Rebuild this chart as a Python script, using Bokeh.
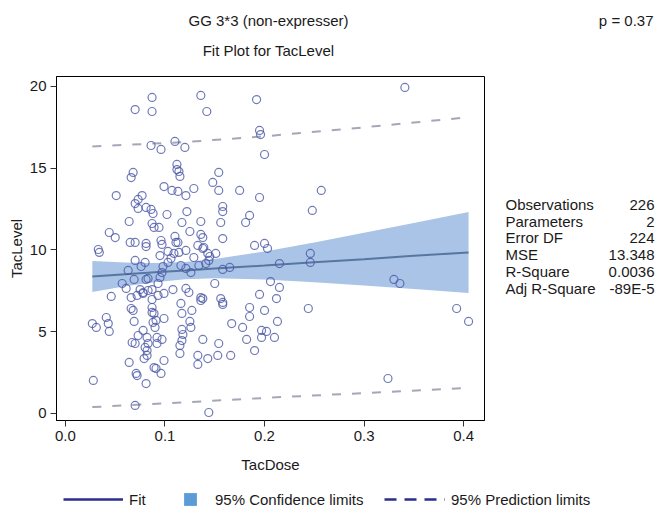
from bokeh.plotting import figure
from bokeh.models import Range1d, FixedTicker, Legend, LegendItem
from bokeh.layouts import column, row
from bokeh.core.properties import value
from bokeh.embed import file_html
from bokeh.resources import INLINE

# ---------------- data ----------------
tac_dose = [0.070, 0.087, 0.087, 0.136, 0.142, 0.192, 0.341, 0.086, 0.096, 0.110,
            0.120, 0.195, 0.196, 0.200, 0.068, 0.066, 0.112, 0.112, 0.114, 0.115,
            0.154, 0.051, 0.099, 0.107, 0.113, 0.121, 0.129, 0.148, 0.154, 0.175,
            0.077, 0.073, 0.070, 0.073, 0.081, 0.086, 0.088, 0.102, 0.122, 0.158,
            0.158, 0.195, 0.257, 0.248, 0.064, 0.087, 0.089, 0.094, 0.117, 0.136,
            0.156, 0.181, 0.185, 0.044, 0.050, 0.125, 0.110, 0.113, 0.096, 0.097,
            0.136, 0.138, 0.158, 0.065, 0.070, 0.081, 0.081, 0.033, 0.034, 0.103,
            0.109, 0.114, 0.121, 0.133, 0.138, 0.143, 0.151, 0.190, 0.200, 0.203,
            0.246, 0.246, 0.145, 0.215, 0.158, 0.165, 0.330, 0.336, 0.206, 0.215,
            0.150, 0.195, 0.212, 0.156, 0.158, 0.158, 0.138, 0.185, 0.185, 0.200,
            0.244, 0.167, 0.178, 0.213, 0.197, 0.202, 0.197, 0.210, 0.182, 0.138,
            0.154, 0.190, 0.143, 0.153, 0.166, 0.393, 0.405, 0.324, 0.144, 0.057,
            0.061, 0.069, 0.081, 0.083, 0.075, 0.078, 0.087, 0.093, 0.095, 0.097,
            0.098, 0.046, 0.066, 0.072, 0.078, 0.083, 0.087, 0.093, 0.099, 0.108,
            0.121, 0.124, 0.136, 0.136, 0.066, 0.068, 0.087, 0.087, 0.089, 0.099,
            0.116, 0.117, 0.127, 0.125, 0.126, 0.041, 0.043, 0.044, 0.027, 0.031,
            0.069, 0.088, 0.090, 0.091, 0.078, 0.073, 0.070, 0.067, 0.082, 0.083,
            0.080, 0.082, 0.092, 0.097, 0.092, 0.117, 0.118, 0.117, 0.115, 0.115,
            0.079, 0.082, 0.099, 0.089, 0.091, 0.096, 0.064, 0.071, 0.072, 0.081,
            0.133, 0.133, 0.028, 0.070, 0.070, 0.080, 0.095, 0.106, 0.116, 0.121,
            0.126, 0.134, 0.141, 0.144, 0.111, 0.139, 0.129, 0.103, 0.076, 0.063]
tac_level = [18.59, 19.33, 18.47, 19.45, 18.47, 19.20, 19.94, 16.39, 16.15, 16.64,
             16.27, 17.31, 17.06, 15.84, 14.74, 14.43, 15.23, 14.92, 14.80, 14.50,
             14.74, 13.33, 13.88, 13.64, 13.58, 13.33, 13.76, 14.13, 13.64, 13.64,
             13.33, 13.09, 12.84, 12.54, 12.60, 12.48, 12.23, 12.17, 12.35, 12.66,
             12.35, 13.21, 13.64, 12.42, 11.74, 11.62, 11.38, 11.38, 11.68, 11.74,
             11.68, 11.68, 12.11, 11.07, 10.76, 11.13, 10.83, 10.46, 10.58, 10.34,
             10.95, 10.76, 10.70, 10.46, 10.46, 10.40, 10.21, 10.03, 9.85, 9.91,
             9.79, 9.85, 9.97, 10.28, 10.09, 9.79, 9.79, 10.28, 10.40, 10.09,
             9.79, 9.24, 9.60, 9.17, 8.81, 8.93, 8.20, 7.95, 8.07, 7.71,
             7.95, 7.28, 7.03, 7.03, 6.79, 6.67, 7.03, 6.48, 5.93, 6.30,
             6.42, 5.50, 5.26, 5.63, 5.08, 5.02, 4.65, 4.65, 4.53, 4.53,
             4.28, 3.85, 3.36, 3.55, 3.55, 6.42, 5.63, 2.14, 0.06, 7.95,
             7.65, 8.20, 8.20, 8.26, 7.58, 7.40, 7.58, 7.95, 8.32, 8.62,
             8.99, 7.16, 7.09, 7.22, 7.34, 7.52, 6.97, 7.22, 7.34, 7.58,
             7.65, 7.40, 7.09, 6.91, 6.42, 6.30, 6.48, 6.18, 6.12, 5.81,
             6.73, 6.12, 6.30, 5.63, 5.26, 5.87, 5.50, 5.02, 5.50, 5.26,
             5.63, 5.57, 5.26, 5.69, 5.08, 4.77, 4.28, 4.34, 4.65, 4.28,
             4.04, 3.85, 4.65, 4.53, 4.28, 5.14, 4.83, 4.46, 4.16, 3.67,
             3.36, 3.55, 3.24, 2.81, 2.75, 2.45, 3.12, 2.45, 2.32, 1.83,
             3.55, 3.00, 2.02, 0.49, 9.36, 9.24, 9.66, 9.48, 9.05, 8.87,
             8.62, 9.05, 9.17, 9.36, 10.46, 10.15, 9.54, 9.24, 8.99, 8.75]

fit_x = [0.027, 0.06, 0.09, 0.12, 0.15, 0.2, 0.25, 0.3, 0.35, 0.405]
fit_y = [8.38, 8.51, 8.63, 8.74, 8.86, 9.05, 9.25, 9.44, 9.64, 9.85]
cl_lower = [7.43, 7.78, 8.03, 8.21, 8.27, 8.19, 8.02, 7.82, 7.61, 7.37]
cl_upper = [9.33, 9.24, 9.21, 9.27, 9.45, 9.91, 10.46, 11.06, 11.65, 12.33]

pl_x = [0.027, 0.12, 0.2, 0.3, 0.405]
pl_lower = [0.39, 0.68, 0.95, 1.25, 1.57]
pl_upper = [16.33, 16.60, 16.95, 17.50, 18.12]

x_ticks = [0.0, 0.1, 0.2, 0.3, 0.4]
x_tick_labels = ["0.0", "0.1", "0.2", "0.3", "0.4"]
y_ticks = [0, 5, 10, 15, 20]
y_tick_labels = ["0", "5", "10", "15", "20"]

title_main = "GG 3*3 (non-expresser)"
title_sub = "Fit Plot for TacLevel"
p_text = "p = 0.37"
stat_names = ["Observations", "Parameters", "Error DF", "MSE", "R-Square", "Adj R-Square"]
stat_values = ["226", "2", "224", "13.348", "0.0036", "-89E-5"]
legend_labels = ["Fit", "95% Confidence limits", "95% Prediction limits"]

# ---------------- styling ----------------
FONT = "Liberation Sans"
FS = "15px"
TXT = "#1a1a1a"

TOP_H, MID_H, BOT_H = 68, 408, 31
MAIN_W, SIDE_W = 488, 172
TOTAL_W = MAIN_W + SIDE_W


def blank(w, h, xr, yr):
    f = figure(width=w, height=h, output_backend="svg", toolbar_location=None,
               x_range=xr, y_range=yr, min_border=0, outline_line_color=None)
    f.axis.visible = False
    f.grid.visible = False
    return f


def put_text(f, xs, ys, texts, align):
    f.text(x=xs, y=ys, text=texts, text_font=value(FONT), text_font_size=FS,
           text_color=TXT, text_align=align, text_baseline="middle")


# ---- top: titles and p value (pixel-like coordinates) ----
top = blank(TOTAL_W, TOP_H, Range1d(0, TOTAL_W), Range1d(0, TOP_H))
put_text(top, [268, 268], [48, 18], [title_main, title_sub], "center")
put_text(top, [653], [48], [p_text], "right")

# ---- main fit plot ----
p = figure(width=MAIN_W, height=MID_H, output_backend="svg", toolbar_location=None,
           x_range=Range1d(-0.009, 0.421), y_range=Range1d(-0.43, 20.61),
           min_border_left=56, min_border_right=4, min_border_top=8, min_border_bottom=56,
           background_fill_color="white", border_fill_color="white")
p.grid.visible = False
p.outline_line_color = "black"
p.outline_line_width = 1

for ax in (p.xaxis[0], p.yaxis[0]):
    ax.axis_line_color = "black"
    ax.major_tick_line_color = "#333333"
    ax.minor_tick_line_color = None
    ax.major_tick_in = 0
    ax.major_tick_out = 6
    ax.major_label_standoff = 4
    ax.major_label_text_font = FONT
    ax.major_label_text_font_size = FS
    ax.major_label_text_color = TXT
    ax.axis_label_text_font = FONT
    ax.axis_label_text_font_size = FS
    ax.axis_label_text_font_style = "normal"
    ax.axis_label_text_color = TXT

p.xaxis.ticker = FixedTicker(ticks=x_ticks)
p.xaxis.major_label_overrides = dict(zip(x_ticks, x_tick_labels))
p.yaxis.ticker = FixedTicker(ticks=y_ticks)
p.yaxis.major_label_overrides = dict(zip(y_ticks, y_tick_labels))
p.xaxis.axis_label = "TacDose"
p.yaxis.axis_label = "TacLevel"
p.xaxis.axis_label_standoff = 12
p.yaxis.axis_label_standoff = 2

p.varea(x=fit_x, y1=cl_lower, y2=cl_upper, fill_color="#a9c4e6", fill_alpha=1.0)
p.line(fit_x, fit_y, line_color="#57779f", line_width=2)
p.line(pl_x, pl_lower, line_color="#a6a6b8", line_width=2, line_dash="9 11")
p.line(pl_x, pl_upper, line_color="#a6a6b8", line_width=2, line_dash="9 11")
p.scatter(tac_dose, tac_level, marker="circle", size=8, fill_color=None,
          line_color="#4b58a6", line_alpha=0.8, line_width=1.2)

# ---- side: fit statistics (frame aligned with the main frame, 344 px tall) ----
side = blank(SIDE_W, MID_H, Range1d(0, SIDE_W), Range1d(0, 344))
row_y = [216, 199, 183, 166, 149, 132]
put_text(side, [17] * len(stat_names), row_y, stat_names, "left")
put_text(side, [166] * len(stat_values), row_y, stat_values, "right")

# ---- bottom: legend ----
# legend-only renderers carry the legend styling; their data lies outside this
# figure's ranges so nothing but the legend swatches is visible
bot = blank(TOTAL_W, BOT_H, Range1d(0, 1), Range1d(-2, -1))
leg_fit = bot.line(fit_x, fit_y, line_color="#2b2e8c", line_width=2.5)
leg_cl = bot.varea(x=fit_x, y1=cl_lower, y2=cl_upper, fill_color="#5b9bd8")
leg_pl = bot.line(fit_x, fit_y, line_color="#2b2e8c", line_width=2.5, line_dash="12 8")


def mk_legend(item, loc, gw, gh, standoff):
    lg = Legend(items=[item], location=loc, orientation="horizontal",
                glyph_width=gw, glyph_height=gh, label_standoff=standoff,
                padding=0, margin=0, spacing=0, border_line_color=None,
                background_fill_color=None, background_fill_alpha=0,
                label_text_font=FONT, label_text_font_size=FS, label_text_color=TXT,
                label_height=20)
    bot.add_layout(lg, "center")


mk_legend(LegendItem(label=legend_labels[0], renderers=[leg_fit]), (63, -2), 60, 20, 6)
mk_legend(LegendItem(label=legend_labels[1], renderers=[leg_cl]), (182, -2), 16, 16, 17)
mk_legend(LegendItem(label=legend_labels[2], renderers=[leg_pl]), (384, -2), 61, 20, 6)

layout = column(top, row(p, side), bot)
open("out.html", "w").write(file_html(layout, INLINE))
